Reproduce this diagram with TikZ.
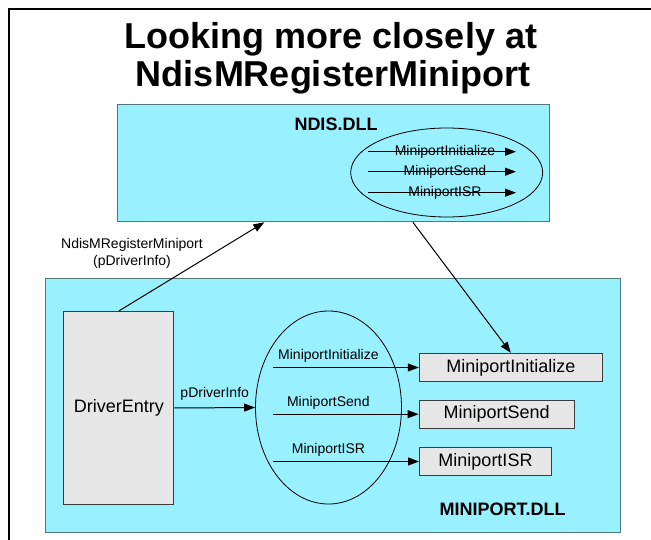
\documentclass[tikz,border=0pt]{standalone}
\usepackage{fontspec}
\setmainfont{Liberation Sans}
\usetikzlibrary{arrows.meta,shapes.geometric,calc}
\definecolor{dllfill}{RGB}{153,240,255}
\definecolor{dlledge}{RGB}{80,120,126}
\definecolor{fnfill}{RGB}{230,230,230}
\definecolor{fnedge}{RGB}{60,60,60}
\tikzset{
  dllbox/.style={draw=dlledge, fill=dllfill, line width=1.3pt, rectangle, inner sep=0pt},
  fnbox/.style={draw=fnedge, fill=fnfill, line width=1pt, rectangle, inner sep=0pt, font=\fontsize{18}{21}\selectfont},
  oval/.style={draw=black, line width=0.8pt, ellipse, inner sep=0pt},
  conn/.style={draw=black, line width=1pt, -{Triangle[length=11pt,width=8pt]}},
  small/.style={font=\fontsize{14}{17}\selectfont, inner sep=0pt},
  titlefont/.style={font=\fontsize{36}{40}\selectfont\bfseries, inner sep=0pt},
  dllname/.style={font=\fontsize{18}{21}\selectfont\bfseries, inner sep=0pt}
}
\begin{document}
\begin{tikzpicture}[x=1pt,y=-1pt]
\useasboundingbox (0,0) rectangle (651,540);
% outer frame
\draw[line width=2.3pt] (9.3,545) -- (9.3,9) -- (660,9);
% title
\node[titlefont, anchor=base] (title1) at (331,49) {Looking more closely at};
\node[titlefont, anchor=base] (title2) at (333,86.5) {NdisMRegisterMiniport};
% NDIS.DLL box
\node[dllbox, anchor=north west, minimum width=432pt, minimum height=117pt] (ndis) at (117,104) {};
\node[dllname, anchor=base] (ndisname) at (336,130.7) {NDIS.DLL};
\node[oval, minimum width=192pt, minimum height=89pt] (nell) at (446.7,172.5) {};
\coordinate (na1) at (368,151.7);
\coordinate (nb1) at (516,151.7);
\coordinate (na2) at (368,171.7);
\coordinate (nb2) at (516,171.7);
\coordinate (na3) at (368,192.7);
\coordinate (nb3) at (516,192.7);
\draw[conn] (na1) -- node[small, pos=0.52] (nl1) {MiniportInitialize} (nb1);
\draw[conn] (na2) -- node[small, pos=0.52] (nl2) {MiniportSend} (nb2);
\draw[conn] (na3) -- node[small, pos=0.52] (nl3) {MiniportISR} (nb3);
% MINIPORT.DLL box
\node[dllbox, anchor=north west, minimum width=575pt, minimum height=254pt] (mp) at (45,278) {};
\node[dllname, anchor=base] (mpname) at (502.5,515) {MINIPORT.DLL};
\node[fnbox, anchor=north west, minimum width=110pt, minimum height=193pt] (driver) at (63.3,311) {DriverEntry};
\node[oval, minimum width=146pt, minimum height=193pt] (mell) at (328.5,407.5) {};
\node[fnbox, minimum width=183pt, minimum height=28.4pt] (finit) at (510.8,367.5) {MiniportInitialize};
\node[fnbox, minimum width=155pt, minimum height=28.4pt] (fsend) at (496.6,414.2) {MiniportSend};
\node[fnbox, minimum width=132pt, minimum height=28.4pt] (fisr) at (485.5,461.5) {MiniportISR};
\coordinate (ma1) at (273,367.5);
\coordinate (ma2) at (273,414.2);
\coordinate (ma3) at (273,461.5);
\draw[conn] (ma1) -- node[small, pos=0.38, anchor=base, yshift=7.7pt] (ml1) {MiniportInitialize} (finit.west);
\draw[conn] (ma2) -- node[small, pos=0.38, anchor=base, yshift=7.7pt] (ml2) {MiniportSend} (fsend.west);
\draw[conn] (ma3) -- node[small, pos=0.38, anchor=base, yshift=7.7pt] (ml3) {MiniportISR} (fisr.west);
\draw[conn] (driver.east) -- node[small, anchor=base, yshift=10pt] (pdi) {pDriverInfo} (mell.west);
% register call
\draw[conn] (driver.north) -- ($(ndis.south west)!0.34!(ndis.south east)$);
\node[small, align=center] (reglabel) at (132,253) {NdisMRegisterMiniport\\(pDriverInfo)};
\draw[conn] ($(ndis.south west)!0.683!(ndis.south east)$) -- (finit.north);
\end{tikzpicture}
\end{document}
